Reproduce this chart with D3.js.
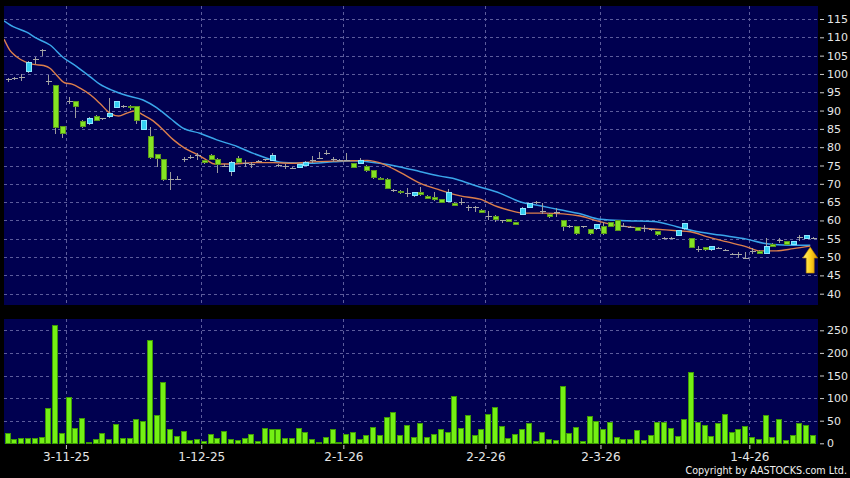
<!DOCTYPE html>
<html><head><meta charset="utf-8">
<script src="https://cdn.jsdelivr.net/npm/d3@7"></script>
<style>html,body{margin:0;padding:0;background:#000;}svg{display:block;}</style>
</head><body>
<svg id="c" width="850" height="478"></svg>
<script>
// ---- data (trading-day index 0 = 20 Oct 2025) ----
const opens  = [98.6,98.8,99.0,100.7,104.0,106.4,98.3,96.9,85.7,92.5, 92.5,87.1,86.5,88.6,87.8,88.4,91.0,91.2,91.3,91.2, 85.1,83.0,78.1,76.7,71.5,71.3,76.7,77.1,77.9,76.5, 78.0,76.9,74.9,73.6,77.1,75.8,75.4,76.3,76.7,76.5, 75.2,75.0,74.4,74.6,75.2,76.6,77.1,78.3,76.8,76.5, 76.5,75.7,75.7,75.0,73.8,71.7,71.4,68.4,68.1,67.4, 66.9,67.7,66.8,66.3,65.8,65.4,64.8,64.9,63.6,63.8, 62.9,61.2,61.3,60.0,60.3,59.6,61.8,63.7,65.0,62.6, 61.8,62.3,60.1,58.5,58.4,58.4,57.7,57.9,58.6,59.5, 60.0,58.5,58.3,58.1,57.9,57.6,57.0,55.3,55.3,56.0, 57.9,55.1,52.2,52.7,52.1,52.6,52.0,50.9,50.9,49.8, 51.7,51.7,51.2,53.7,54.7,54.3,53.7,55.4,55.2,55.3];
const highs  = [98.8,99.3,99.9,103.5,104.6,106.7,99.7,97.0,85.8,93.8, 92.6,87.3,88.3,88.7,88.0,93.4,92.6,91.4,91.4,91.3, 87.5,85.4,78.2,76.8,73.2,72.2,77.4,78.0,78.5,76.6, 78.1,77.0,75.4,76.1,77.5,76.4,76.0,76.5,76.9,78.4, 75.4,75.5,74.6,75.5,76.1,77.6,78.7,79.1,77.3,76.7, 78.3,75.8,77.1,75.1,73.9,71.8,71.5,68.5,68.2,68.9, 67.8,69.0,66.9,67.9,65.9,68.5,64.9,66.0,64.3,63.9, 63.0,62.5,61.4,60.1,60.4,59.7,63.6,64.8,65.2,64.7, 61.9,63.3,60.2,58.7,58.5,58.6,57.8,59.0,59.6,59.6, 60.1,59.4,58.5,58.2,58.7,57.8,57.1,55.4,55.4,57.5, 59.3,55.2,53.0,52.8,53.0,52.7,52.1,51.0,51.5,51.3, 52.4,51.8,55.1,53.8,55.1,54.4,54.4,55.9,56.1,55.4];
const lows   = [98.2,98.7,98.3,100.6,103.1,105.2,97.2,83.8,82.9,92.2, 88.2,85.5,86.4,87.3,87.7,88.3,90.9,91.0,90.5,86.6, 85.0,77.1,75.0,71.1,68.6,71.2,76.2,77.1,76.9,75.8, 76.8,73.1,74.8,72.4,75.8,74.8,74.5,76.1,76.5,76.4, 75.0,74.4,74.3,74.5,75.1,75.9,77.0,78.1,76.3,76.4, 76.4,74.5,75.6,73.6,71.7,71.2,68.8,68.0,67.6,66.7, 66.8,67.0,66.1,65.7,65.0,65.3,64.1,64.6,62.9,62.5, 62.3,60.3,59.9,59.6,59.8,58.9,61.7,63.6,64.8,62.1, 61.0,61.2,57.3,58.3,56.3,58.2,56.4,57.8,56.3,58.4, 57.3,58.4,58.2,57.3,57.2,57.5,56.1,55.2,55.2,55.9, 57.8,52.7,51.6,52.0,52.0,52.5,51.9,50.8,50.1,49.7, 51.0,51.0,51.1,52.9,54.0,53.6,53.6,54.7,55.1,55.2];
const closes = [98.6,98.9,99.1,103.3,104.1,106.5,98.2,85.4,84.0,92.6, 91.2,85.8,87.9,87.4,87.9,89.4,92.5,91.2,91.0,87.3, 87.4,77.2,77.0,71.2,71.3,71.3,76.8,77.2,77.9,75.9, 76.9,75.3,74.9,76.0,75.9,75.8,75.4,76.3,76.7,77.8, 75.2,75.0,74.4,75.4,76.0,76.6,77.1,78.3,76.8,76.5, 76.5,74.6,76.4,73.7,71.8,71.3,68.9,68.3,67.7,67.4, 67.7,67.1,66.2,65.8,65.1,67.7,64.2,64.9,63.6,63.8, 62.4,61.2,60.5,60.0,59.9,59.0,63.5,64.7,65.0,62.6, 61.1,62.3,58.4,58.5,56.7,58.4,56.5,58.9,56.7,58.5, 57.4,58.5,58.3,57.4,57.9,57.6,56.2,55.3,55.3,57.4, 59.2,52.8,52.2,52.1,52.9,52.6,52.0,50.9,50.9,49.8, 51.7,51.1,53.0,53.0,54.7,53.7,54.3,55.4,56.0,55.3];
const volumes = [23,10,12,11,11,15,78,261,22,102, 33,57,3,10,23,9,43,12,12,54, 50,229,62,135,31,16,27,8,10,4, 20,12,27,9,8,12,21,5,34,32, 31,12,12,33,26,10,2,14,32,3, 21,26,10,18,37,19,58,70,18,40, 13,44,14,21,32,26,104,34,62,18, 32,65,81,39,12,21,32,46,4,25, 10,7,126,22,35,6,60,49,32,48, 15,10,10,30,7,18,47,48,33,17, 53,158,47,41,17,44,64,25,32,39, 15,10,62,15,54,7,19,45,40,18];
// moving averages: [trading-day index, price]
const maFast = [[-0.55,109.5],[0.3,106.5],[1.3,104.7],[2.6,103.3],[3.8,102.6],[5.3,102.3],[6.3,101.5],[7.2,99.7],[8.4,97.6],[9.5,97.2],[10.7,96.1],[12.2,94.3],[13.6,92.0],[15.1,89.3],[16.4,88.5],[17.6,89.3],[18.8,89.9],[20,88.8],[21.5,87.2],[23,84.7],[24.5,82.0],[26.2,79.7],[27.9,78.1],[29.4,76.5],[30.6,75.4],[33.4,75.4],[36.3,75.8],[39.3,75.8],[42.2,75.6],[45.2,76.0],[48.1,76.2],[51.1,76.3],[53.1,76.4],[55.5,75.4],[58,73.1],[61,70.1],[63.9,68.3],[66.9,66.7],[69.8,65.8],[72.3,63.8],[74.3,62.7],[76.2,62.0],[79.2,62.0],[82.1,61.8],[84.6,61.2],[87.1,59.9],[89,59.0],[92.5,58.1],[95.9,57.6],[98.9,57.2],[100.9,56.9],[103.3,55.6],[106.2,54.2],[109.2,52.8],[111.2,51.7],[113.6,51.7],[116.1,52.3],[118.6,53.0]];
const maSlow = [[-0.55,114.5],[0.8,112.9],[2.8,111.4],[4.3,109.7],[6.25,107.9],[8.2,104.5],[10.2,102.0],[12.2,99.2],[13.6,97.2],[15.6,95.4],[17.6,94.1],[20,92.9],[22,90.8],[24,87.9],[25.9,85.2],[28.4,83.8],[30.9,82.0],[33.9,80.2],[36.3,78.3],[38.3,77.0],[40.7,75.8],[44.2,75.6],[48.1,76.0],[51.1,76.3],[55,75.6],[58,74.6],[61,73.3],[63.9,72.1],[66.4,71.2],[69.3,69.4],[72.8,67.4],[75.7,65.1],[78.7,64.0],[81.6,62.9],[84.6,61.8],[87.6,60.3],[91.5,59.9],[95.4,59.7],[98.9,58.3],[101.3,57.2],[105.3,56.0],[109.2,54.9],[111.7,53.8],[114.6,53.3],[118.6,53.2]];
const dateLabels = ["3-11-25","1-12-25","2-1-26","2-2-26","2-3-26","1-4-26"];
const dateIdx = [9,29,50,71,88,110];
const priceTicks = [40,45,50,55,60,65,70,75,80,85,90,95,100,105,110,115];
const volTicks = [0,50,100,150,200,250];

// ---- layout ----
const W=850,H=478;
const pL=4,pR=818,pTop=6,pBot=305,vTop=319,vBot=444;
const svg=d3.select('#c');
svg.append('rect').attr('width',W).attr('height',H).attr('fill','#000');
const x=d3.scaleLinear().domain([-0.55,119.75]).range([pL,pR]);
const yP=d3.scaleLinear().domain([40,115]).range([293.7,19]);
const yV=d3.scaleLinear().domain([0,250]).range([443.3,330.3]);
const cx=i=>Math.round(x(i));

const defs=svg.append('defs');
defs.append('clipPath').attr('id','cp').append('rect').attr('x',pL).attr('y',pTop).attr('width',pR-pL).attr('height',pBot-pTop);
defs.append('clipPath').attr('id','cv').append('rect').attr('x',pL).attr('y',vTop).attr('width',pR-pL).attr('height',vBot-vTop);
const g=defs.append('linearGradient').attr('id','arw').attr('x1','0').attr('x2','1').attr('y1','0').attr('y2','0');
g.append('stop').attr('offset','0').attr('stop-color','#fff07a');
g.append('stop').attr('offset','0.5').attr('stop-color','#ffd21e');
g.append('stop').attr('offset','1').attr('stop-color','#d89400');

const BG='#000050', GRID='#5c5c9c';
svg.append('rect').attr('x',pL).attr('y',pTop).attr('width',pR-pL).attr('height',pBot-pTop).attr('fill',BG);
svg.append('rect').attr('x',pL).attr('y',vTop).attr('width',pR-pL).attr('height',vBot-vTop).attr('fill',BG);

// gridlines
const grid=svg.append('g').attr('stroke',GRID).attr('stroke-width',1).attr('stroke-dasharray','3,3').attr('shape-rendering','crispEdges');
grid.selectAll('.hp').data(priceTicks).join('line')
  .attr('x1',pL).attr('x2',pR).attr('y1',d=>Math.round(yP(d))+0.5).attr('y2',d=>Math.round(yP(d))+0.5);
grid.selectAll('.hv').data(volTicks.filter(d=>d>0)).join('line').attr('class','hv')
  .attr('x1',pL).attr('x2',pR).attr('y1',d=>Math.round(yV(d))+0.5).attr('y2',d=>Math.round(yV(d))+0.5);
const gx=k=>Math.round(x(k-0.4))+0.5;
grid.selectAll('.vp').data(dateIdx).join('line').attr('class','vp')
  .attr('x1',gx).attr('x2',gx).attr('y1',pTop).attr('y2',pBot);
grid.selectAll('.vv').data(dateIdx).join('line').attr('class','vv')
  .attr('x1',gx).attr('x2',gx).attr('y1',vTop).attr('y2',vBot);

// volume bars
const vg=svg.append('g').attr('clip-path','url(#cv)').attr('shape-rendering','crispEdges');
vg.selectAll('rect').data(volumes).join('rect')
  .attr('x',(d,i)=>cx(i)-2.5).attr('width',5)
  .attr('y',d=>Math.round(yV(d))+0.5).attr('height',d=>Math.max(0.5,Math.round(yV(0))-Math.round(yV(d))))
  .attr('fill','#74f014').attr('stroke','#3e9a06').attr('stroke-width',1);

// moving averages
const line=d3.line().x(d=>x(d[0])).y(d=>yP(d[1])).curve(d3.curveMonotoneX);
const mg=svg.append('g').attr('clip-path','url(#cp)').attr('fill','none');
mg.append('path').attr('d',line(maSlow)).attr('stroke','#3aa6ea').attr('stroke-width',1.5);
mg.append('path').attr('d',line(maFast)).attr('stroke','#dc7f4c').attr('stroke-width',1.4);

// candles
const cg=svg.append('g').attr('clip-path','url(#cp)').attr('shape-rendering','crispEdges');
const idx=d3.range(closes.length);
cg.selectAll('.wk').data(idx).join('line').attr('class','wk')
  .attr('x1',i=>cx(i)+0.5).attr('x2',i=>cx(i)+0.5)
  .attr('y1',i=>Math.round(yP(highs[i]))).attr('y2',i=>Math.round(yP(lows[i]))+1)
  .attr('stroke','#9c9c9c').attr('stroke-width',1);
cg.selectAll('.bd').data(idx).join('g').attr('class','bd').each(function(i){
  const o=opens[i],c=closes[i],s=d3.select(this);
  if(Math.abs(c-o)<0.25){
    const yy=Math.round(yP(c))+0.5;
    s.append('line').attr('x1',cx(i)-2.5).attr('x2',cx(i)+3.5).attr('y1',yy).attr('y2',yy)
     .attr('stroke','#a8a8a8').attr('stroke-width',1.6);
  } else {
    const up=c>o;
    const t=Math.round(yP(Math.max(o,c))),b=Math.round(yP(Math.min(o,c)));
    s.append('rect').attr('x',cx(i)-2).attr('width',5).attr('y',t+0.5).attr('height',Math.max(1,b-t))
     .attr('fill',up?'#34cdf0':'#84e423').attr('stroke',up?'#8ee6ff':'#5c9a1c').attr('stroke-width',1);
  }
});

// arrow marker at latest moving-average point
const last=maFast[maFast.length-1];
const ax=x(last[0]), ay=yP(last[1])+1;
svg.append('path')
  .attr('d',`M${ax},${ay} L${ax+7.5},${ay+11} L${ax+4},${ay+11} L${ax+4},${ay+26} L${ax-4},${ay+26} L${ax-4},${ay+11} L${ax-7.5},${ay+11} Z`)
  .attr('fill','url(#arw)').attr('stroke','#b07a00').attr('stroke-width',0.6);

// axes
function styleAxis(sel){
  sel.select('.domain').remove();
  sel.selectAll('line').attr('stroke','#cfcfcf');
  sel.selectAll('text').attr('fill','#e6e6e6').attr('font-family','"DejaVu Sans", Verdana, sans-serif').attr('font-size','11px');
}
svg.append('g').attr('transform','translate(820,0)')
  .call(d3.axisRight(yP).tickValues(priceTicks).tickSize(4).tickPadding(3).tickFormat(d3.format('d')))
  .call(styleAxis);
svg.append('g').attr('transform','translate(820,0)')
  .call(d3.axisRight(yV).tickValues(volTicks).tickSize(4).tickPadding(3).tickFormat(d3.format('d')))
  .call(styleAxis);
svg.append('g').attr('transform',`translate(0,${vBot+1})`)
  .call(d3.axisBottom(x).tickValues(dateIdx.map(k=>k-0.4)).tickSize(4).tickPadding(3)
    .tickFormat((d,i)=>dateLabels[i]))
  .call(styleAxis)
  .call(s=>s.selectAll('text').attr('font-size','12px'));

svg.append('text').attr('x',847).attr('y',474).attr('text-anchor','end')
  .attr('fill','#f0f0f0').attr('font-family','"DejaVu Sans", Verdana, sans-serif').attr('font-size','9.6px')
  .text('Copyright by AASTOCKS.com Ltd.');
</script>
</body></html>
